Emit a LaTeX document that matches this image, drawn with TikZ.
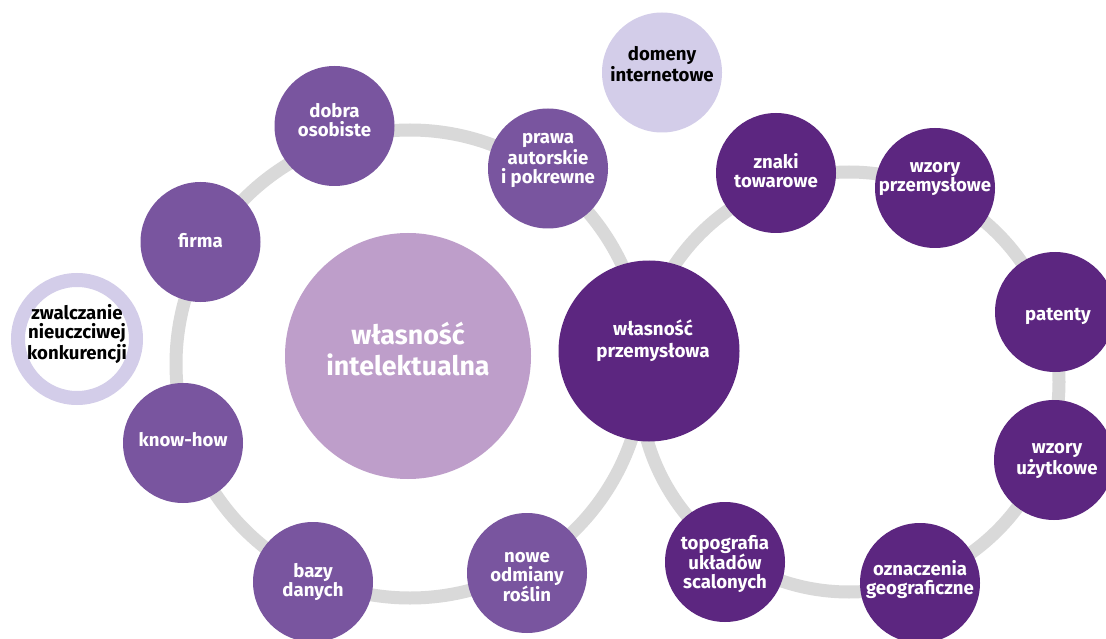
\documentclass[tikz,border=0pt]{standalone}
\usepackage{fontspec}
\setmainfont{Fira Sans}
\definecolor{midp}{HTML}{79559F}
\definecolor{darkp}{HTML}{5C2680}
\definecolor{lilac}{HTML}{BE9ECA}
\definecolor{lav}{HTML}{D3CDE9}
\definecolor{ringg}{HTML}{D9D9D9}
\begin{document}
\begin{tikzpicture}[x=1pt,y=-1pt,
  bub/.style={circle, minimum size=120pt, inner sep=0pt},
  med/.style={bub, fill=midp},
  drk/.style={bub, fill=darkp},
  lbl/.style={align=center, text=white, font=\bfseries\fontsize{18.6}{19}\selectfont, inner sep=0pt},
  blbl/.style={lbl, text=black},
]
\useasboundingbox (0,0) rectangle (1106,639);
\clip (0,0) rectangle (1106,639);
\fill[white] (0,0) rectangle (1106,639);
% rings
\draw[ringg, line width=13pt] (410,364) circle[radius=234pt];
\draw[ringg, line width=13pt] (849,382) circle[radius=210pt];
% left group
\node[bub, fill=lilac, minimum size=246pt] (wi) at (408,356) {};
\node[med] (dob) at (334.5,126) {};
\node[med] (fir) at (200.5,242) {};
\node[med] (pra) at (548,168.5) {};
\node[med] (kno) at (183,443) {};
\node[med] (baz) at (313,582) {};
\node[med] (now) at (527,573) {};
\node[drk, minimum size=181pt] (wp) at (649,351) {};
% right group
\node[bub, fill=lav] (dom) at (662,72.5) {};
\node[drk] (zna) at (776,173) {};
\node[drk] (wzp) at (935,188) {};
\node[drk] (pat) at (1055,312) {};
\node[drk] (wzu) at (1054,460) {};
\node[drk] (ozn) at (920,583) {};
\node[drk] (top) at (725,562) {};
% zwalczanie
\node[circle, minimum size=118pt, inner sep=0pt, draw=lav, line width=14pt, fill=white] (zwa) at (77,339) {};
% labels
\node[lbl, font=\bfseries\fontsize{26.8}{31}\selectfont] (twi) at ([yshift=7pt]wi.center) {własność\\intelektualna};
\node[lbl, font=\bfseries\fontsize{18.8}{22}\selectfont] (twp) at ([yshift=10pt,xshift=4pt]wp.center) {własność\\przemysłowa};
\node[lbl] (tdob) at ([yshift=5.5pt]dob.center) {dobra\\osobiste};
\node[lbl] (tfir) at ([yshift=1.5pt]fir.center) {firma};
\node[lbl] (tpra) at ([yshift=8pt]pra.center) {prawa\\autorskie\\i pokrewne};
\node[lbl] (tkno) at ([yshift=3pt]kno.center) {know-how};
\node[lbl] (tbaz) at ([yshift=0pt]baz.center) {bazy\\danych};
\node[lbl] (tnow) at ([yshift=-4pt]now.center) {nowe\\odmiany\\roślin};
\node[blbl] (tdom) at ([yshift=8.5pt]dom.center) {domeny\\internetowe};
\node[lbl] (tzna) at ([yshift=2.5pt]zna.center) {znaki\\towarowe};
\node[lbl] (twzp) at ([yshift=9pt]wzp.center) {wzory\\przemysłowe};
\node[lbl] (tpat) at ([yshift=-4pt,xshift=3pt]pat.center) {patenty};
\node[lbl] (twzu) at ([yshift=-1pt,xshift=3pt]wzu.center) {wzory\\użytkowe};
\node[lbl] (tozn) at ([yshift=3pt]ozn.center) {oznaczenia\\geograficzne};
\node[lbl] (ttop) at ([yshift=-2pt]top.center) {topografia\\układów\\scalonych};
\node[blbl] (tzwa) at ([yshift=5pt]zwa.center) {zwalczanie\\nieuczciwej\\konkurencji};
\end{tikzpicture}
\end{document}
